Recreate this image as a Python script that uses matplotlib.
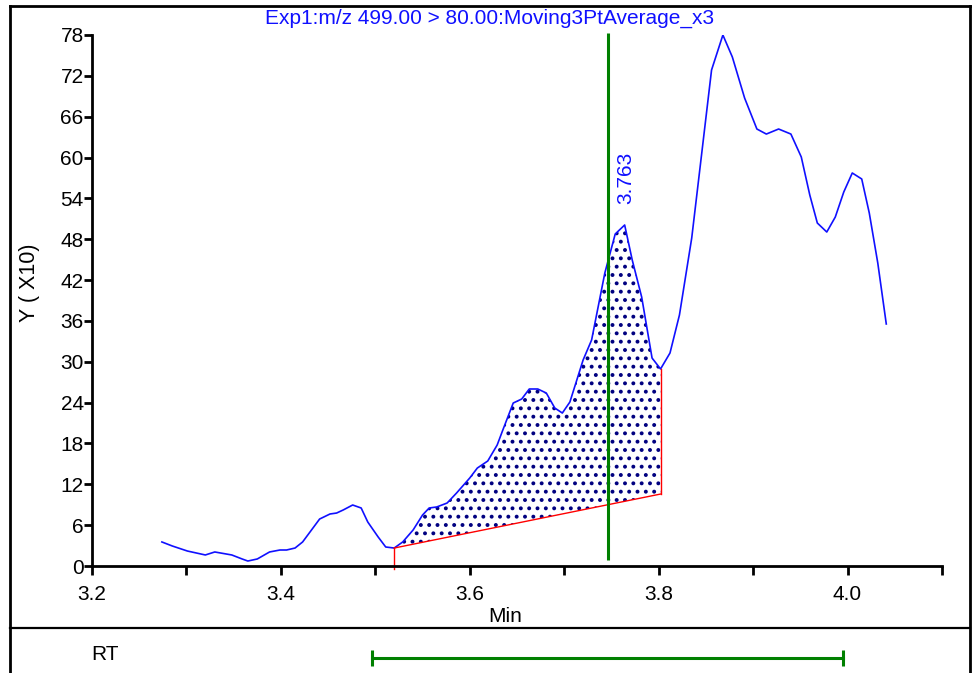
import numpy as np
import matplotlib
matplotlib.use("Agg")
import matplotlib.pyplot as plt
from matplotlib.lines import Line2D

plt.rcParams['font.family'] = ['Liberation Sans', 'DejaVu Sans']
plt.rcParams['hatch.linewidth'] = 1.6

# chromatogram (time in min, intensity in units of 10)
t = [3.274, 3.285, 3.301, 3.320, 3.330, 3.348, 3.359, 3.365, 3.375, 3.388,
     3.399, 3.406, 3.415, 3.423, 3.441, 3.452, 3.459, 3.466, 3.476, 3.485,
     3.492, 3.503, 3.511, 3.520, 3.529, 3.540, 3.550, 3.557, 3.565, 3.576,
     3.586, 3.600, 3.608, 3.619, 3.629, 3.635, 3.646, 3.655, 3.663, 3.672,
     3.681, 3.690, 3.698, 3.706, 3.720, 3.729, 3.743, 3.754, 3.764, 3.772,
     3.782, 3.793, 3.802, 3.812, 3.822, 3.835, 3.846, 3.856, 3.868, 3.878,
     3.891, 3.904, 3.914, 3.927, 3.940, 3.951, 3.960, 3.968, 3.978, 3.987,
     3.996, 4.005, 4.015, 4.023, 4.032, 4.041]
y = [3.53, 2.94, 2.20, 1.62, 2.06, 1.62, 1.03, 0.73, 1.03, 2.06,
     2.35, 2.35, 2.64, 3.53, 6.90, 7.64, 7.78, 8.23, 8.96, 8.52,
     6.46, 4.26, 2.79, 2.64, 3.53, 5.29, 7.49, 8.52, 8.67, 9.25,
     10.72, 12.93, 14.39, 15.42, 17.77, 19.98, 23.94, 24.53, 26.00, 26.00,
     25.41, 23.21, 22.47, 24.09, 30.26, 33.20, 43.04, 48.77, 50.09, 44.95,
     39.51, 30.55, 28.94, 31.29, 36.87, 48.18, 61.10, 72.86, 78.00, 74.77,
     68.74, 64.19, 63.45, 64.19, 63.45, 60.08, 54.50, 50.38, 49.06, 51.26,
     54.94, 57.73, 56.85, 51.85, 44.51, 35.55]

# integration window and baseline
peak_start, peak_end = 3.520, 3.802
base_start, base_end = 2.64, 10.57
marker_rt = 3.746
marker_label = "3.763"
rt_window = [3.497, 3.995]

title = "Exp1:m/z 499.00 > 80.00:Moving3PtAverage_x3"
W, H = 972, 673
fs = 15

fig = plt.figure(figsize=(W / 100, H / 100), dpi=100)

# outer frame and divider
def fline(x0, y0, x1, y1, lw=2.0):
    fig.add_artist(Line2D([x0 / W, x1 / W], [1 - y0 / H, 1 - y1 / H],
                          transform=fig.transFigure, color='black', lw=lw))
fline(10, 6, 970, 6)
fline(10, 6, 10, 673)
fline(970, 6, 970, 673)
fline(10, 628, 970, 628, lw=1.6)

ax = fig.add_axes([92 / W, 1 - 566 / H, 850 / W, 531 / H])
ax.set_xlim(3.2, 4.1)
ax.set_ylim(0, 78)
for s in ['top', 'right']:
    ax.spines[s].set_visible(False)
for s in ['left', 'bottom']:
    ax.spines[s].set_linewidth(2.0)
ax.set_xticks([3.2, 3.4, 3.6, 3.8, 4.0])
ax.set_xticklabels(["3.2", "3.4", "3.6", "3.8", "4.0"])
ax.set_xticks([3.3, 3.5, 3.7, 3.9, 4.1], minor=True)
ax.set_yticks(np.arange(0, 79, 6))
ax.tick_params(axis='x', which='both', direction='out', length=6.5, width=2.0,
               labelsize=fs, pad=7)
ax.tick_params(axis='y', direction='out', length=6, width=2.0, labelsize=fs, pad=0)

# hatched integrated area
t_arr = np.array(t)
y_arr = np.array(y)
m = (t_arr >= peak_start) & (t_arr <= peak_end)
base = np.interp(t_arr[m], [peak_start, peak_end], [base_start, base_end])
ax.fill_between(t_arr[m], y_arr[m], base, facecolor='none', edgecolor='#000080',
                hatch='..', linewidth=0)

ax.plot(t, y, color='#1010ff', lw=1.2)

# baseline
ax.plot([peak_start, peak_end], [base_start, base_end], color='red', lw=1.0)
ax.plot([peak_start, peak_start], [base_start, -0.45], color='red', lw=1.0, clip_on=False)
ax.plot([peak_end, peak_end], [base_end, y_arr[m][-1]], color='red', lw=1.0)

# retention time marker
ax.vlines(marker_rt, 0.9, 78.3, color='#008000', lw=2.2, clip_on=False)
ax.text(marker_rt + 0.019, 57, marker_label, rotation=90, color='#1010ff',
        fontsize=fs, ha='center', va='center')

fig.text(490 / W, 1 - 18 / H, title, color='#1010ff', fontsize=fs,
         ha='center', va='center')
fig.text(30 / W, 1 - 283 / H, "Y ( X10)", rotation=90, fontsize=fs + 0.5,
         ha='center', va='center')
fig.text(505 / W, 1 - 617 / H, "Min", fontsize=fs, ha='center', va='center')

# RT window panel
ax2 = fig.add_axes([92 / W, 0, 850 / W, (H - 630) / H])
ax2.set_xlim(3.2, 4.1)
ax2.set_ylim(0, 1)
ax2.axis('off')
ax2.plot(rt_window, [0.35, 0.35], color='#008000', lw=2.2,
         marker='|', markersize=12, markeredgewidth=2.2)
fig.text(105 / W, 1 - 654 / H, "RT", fontsize=fs, ha='center', va='center')

fig.savefig("out.png", dpi=100)
